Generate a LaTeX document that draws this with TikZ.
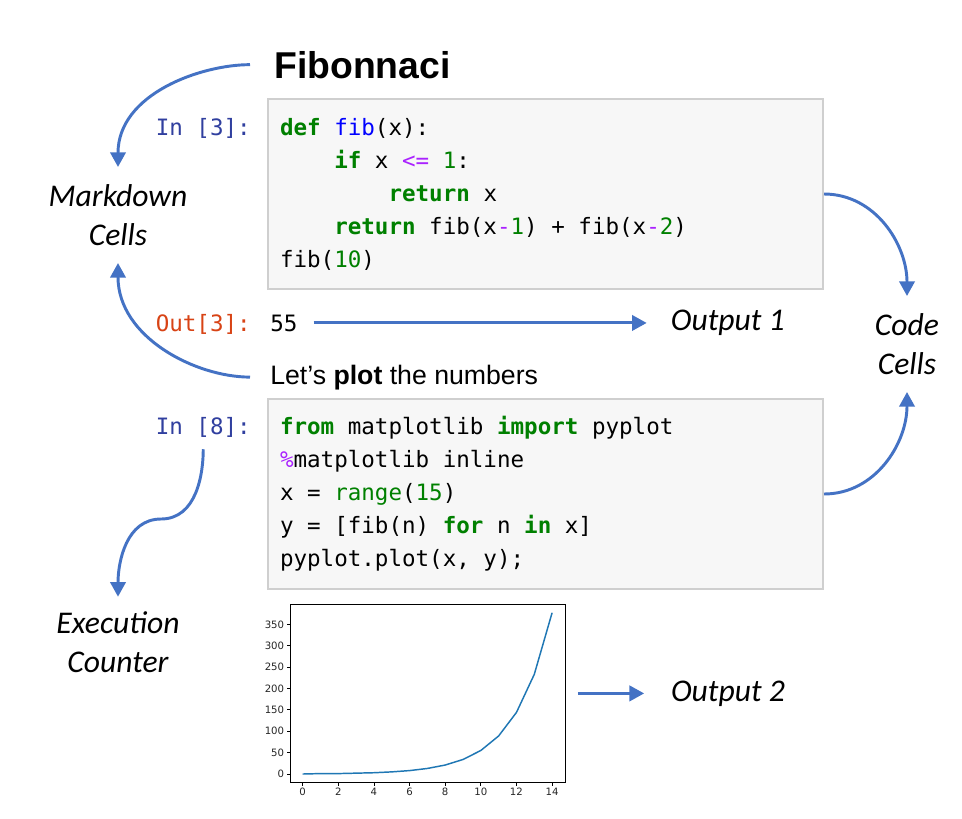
\documentclass[tikz,border=0pt]{standalone}
\usepackage{fontspec}
\setmainfont{Liberation Sans}
\setmonofont{DejaVu Sans Mono}
\newfontfamily\labelfont{Carlito}
\newfontfamily\tickfont{DejaVu Sans}
\usepackage{tikz}
\usetikzlibrary{arrows.meta}
\usetikzlibrary{positioning}
\definecolor{arrowBlue}{HTML}{4472C4}
\definecolor{lineBlue}{HTML}{1F77B4}
\definecolor{cellFill}{HTML}{F7F7F7}
\definecolor{cellBorder}{HTML}{CFCFCF}
\definecolor{promptBlue}{HTML}{303F9F}
\definecolor{promptRed}{HTML}{D84315}
\definecolor{kwGreen}{HTML}{008000}
\definecolor{fnBlue}{HTML}{0000FF}
\definecolor{opPurple}{HTML}{AA22FF}
\newcommand{\codeFont}{\ttfamily\fontsize{16.9pt}{24.75pt}\selectfont}
\newcommand{\codeSpacing}{\settowidth{\spaceskip}{x}\xspaceskip=\spaceskip}
\newcommand{\noteFont}{\labelfont\itshape\fontsize{23.7pt}{29pt}\selectfont}
\newcommand{\codeKw}[1]{\textcolor{kwGreen}{\bfseries #1}}
\newcommand{\codeFn}[1]{\textcolor{fnBlue}{#1}}
\newcommand{\codeNum}[1]{\textcolor{kwGreen}{#1}}
\newcommand{\codeOp}[1]{\textcolor{opPurple}{#1}}
\newcommand{\codeIndent}{\phantom{xxxx}}
\tikzstyle{codeCell} = [draw=cellBorder, line width=1.5pt, fill=cellFill, anchor=north west, minimum width=416.25pt, minimum height=142.5pt, text width=398.25pt, inner xsep=9pt, align=flush left, font=\codeFont, execute at begin node=\codeSpacing]
\tikzstyle{promptIn} = [anchor=base east, inner sep=0pt, text=promptBlue, font=\codeFont]
\tikzstyle{promptOut} = [anchor=base east, inner sep=0pt, text=promptRed, font=\codeFont]
\tikzstyle{noteLabel} = [align=center, inner sep=13pt, font=\noteFont]
\tikzstyle{outLabel} = [inner sep=0pt, font=\noteFont]
\tikzstyle{curveArrow} = [draw=arrowBlue, line width=2.2pt, -{Triangle[length=11pt,width=11.5pt]}]
\tikzstyle{tickLabel} = [inner sep=1.5pt, text=black!85, font=\tickfont\fontsize{7.6pt}{9pt}\selectfont]
\tikzstyle{plotLine} = [draw=lineBlue, line width=1.1pt, line join=round]

\begin{document}
\begin{tikzpicture}[x=0.75pt, y=-0.75pt]
\path[fill=white] (0,0) rectangle (962,818);
\useasboundingbox (0,0) rectangle (962,818);

\node (fibTitle) [anchor=base west, inner sep=0pt, font=\bfseries\fontsize{28pt}{32pt}\selectfont] at (274,78) {Fibonnaci};
\node (cellA) [codeCell] at (267,98) {\codeKw{def} \codeFn{fib}(x):\\
\codeIndent\codeKw{if} x \codeOp{<=} \codeNum{1}:\\
\codeIndent\codeIndent\codeKw{return} x\\
\codeIndent\codeKw{return} fib(x\codeOp{-}\codeNum{1}) + fib(x\codeOp{-}\codeNum{2})\\
fib(\codeNum{10})};
\node (promptA) [promptIn] at (251,135) {In [3]:};
\node (promptOutA) [promptOut] at (251,331) {Out[3]:};
\node (outVal) [anchor=base west, inner sep=0pt, font=\codeFont] at (270,331) {55};
\node (outOne) [outLabel, anchor=west, right=279.75pt of outVal] {Output 1};
\node (letsText) [anchor=base west, inner sep=0pt, font=\fontsize{20pt}{24pt}\selectfont] at (270,384) {Let’s \textbf{plot} the numbers};
\node (cellB) [codeCell] at (267,398) {\codeKw{from} matplotlib \codeKw{import} pyplot\\
\codeOp{\%}matplotlib inline\\
x = \codeNum{range}(\codeNum{15})\\
y = [fib(n) \codeKw{for} n \codeKw{in} x]\\
pyplot.plot(x, y);};
\node (promptB) [promptIn] at (251,434) {In [8]:};

\node (mdLabel) [noteLabel] at (118,215) {Markdown\\Cells};
\node (codeLabel) [noteLabel] at (907,344) {Code\\Cells};
\node (execLabel) [noteLabel, inner sep=11pt] at (118,642) {Execution\\Counter};

\node (axesBox) [draw, line width=0.6pt, anchor=north west, inner sep=0pt, minimum width=206.25pt, minimum height=133.5pt] at (290,604) {};
\node (outTwo) [outLabel, anchor=west, right=78.75pt of axesBox] {Output 2};
\foreach \t in {0,2,...,14}
    \draw[line width=0.6pt] ({302.7+17.81*\t},782) -- ++(0,3.5) node (xTick\t) [below, tickLabel] {\t};
\foreach \v in {0,50,...,350}
    \draw[line width=0.6pt] (290,{774-0.4277*\v}) -- ++(-3.5,0) node (yTick\v) [left, tickLabel] {\v};
\begin{scope}[shift={(302.7,774)}, x=13.36pt, y=0.3208pt]
\draw[plotLine] plot coordinates {(0,0) (1,1) (2,1) (3,2) (4,3) (5,5) (6,8) (7,13) (8,21) (9,34) (10,55) (11,89) (12,144) (13,233) (14,377)};
\end{scope}

\coordinate (turnPt) at (161,519);
\draw[curveArrow, shorten <=18pt] (fibTitle.west) to[out=180, in=90] (mdLabel.north);
\draw[curveArrow, shorten <=15pt] (letsText.west) to[out=180, in=-90] (mdLabel.south);
\draw[curveArrow] (cellA.east) to[out=0, in=90] (codeLabel.north);
\draw[curveArrow] (cellB.east) to[out=0, in=-90] (codeLabel.south);
\draw[curveArrow, shorten <=9pt] (promptB.south) to[out=-90, in=0] (turnPt) to[out=180, in=90] (execLabel.north);
\draw[curveArrow, shorten <=12pt, shorten >=18pt] (outVal.east) -- (outOne.west);
\draw[curveArrow, shorten <=9pt, shorten >=20pt] (axesBox.east) -- (outTwo.west);
\end{tikzpicture}
\end{document}
